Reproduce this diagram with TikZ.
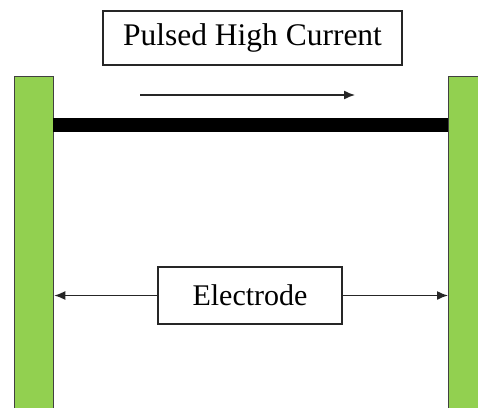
\documentclass[tikz,border=0pt]{standalone}
\usepackage{fontspec}
\setmainfont{Liberation Serif}
\newfontfamily\tnr{Liberation Serif}
\usetikzlibrary{arrows.meta}
\definecolor{barGreen}{RGB}{146,208,80}
\begin{document}
\begin{tikzpicture}[x=1pt,y=-1pt,
  labelbox/.style={draw=black!85,line width=1.5pt,fill=white,inner sep=0pt},
  bar/.style={draw=black!75,line width=1.3pt,fill=barGreen,inner sep=0pt,anchor=north west},
  arr/.style={line width=1.4pt,black!85,-{Latex[length=11pt,width=9pt]}}]
\useasboundingbox (0,0) rectangle (478,407);
\clip (0,0) rectangle (478,407);
\fill[white] (0,0) rectangle (478,407);
% green bars
\node[bar,minimum width=39pt,minimum height=340pt] (left) at (14,76) {};
\node[bar,minimum width=45pt,minimum height=340pt] (right) at (448,76) {};
% thick conductor
\coordinate (lineL) at (53,125);
\coordinate (lineR) at (448,125);
\draw[line width=14pt] (lineL) -- (lineR);
% title box
\node[labelbox,minimum width=299pt,minimum height=54pt,font={\tnr\fontsize{31.5}{36}\selectfont}] (title) at (252.5,38) {Pulsed High Current};
% current arrow
\coordinate (cA) at (140,95);
\coordinate (cB) at (355,95);
\draw[arr] (cA) -- (cB);
% electrode box
\node[labelbox,minimum width=184pt,minimum height=57pt,font={\tnr\fontsize{30}{36}\selectfont}] (elec) at (250,295.5) {Electrode};
\draw[arr] (elec.west) -- (left.east |- elec.west);
\draw[arr] (elec.east) -- (right.west |- elec.east);
\end{tikzpicture}
\end{document}
